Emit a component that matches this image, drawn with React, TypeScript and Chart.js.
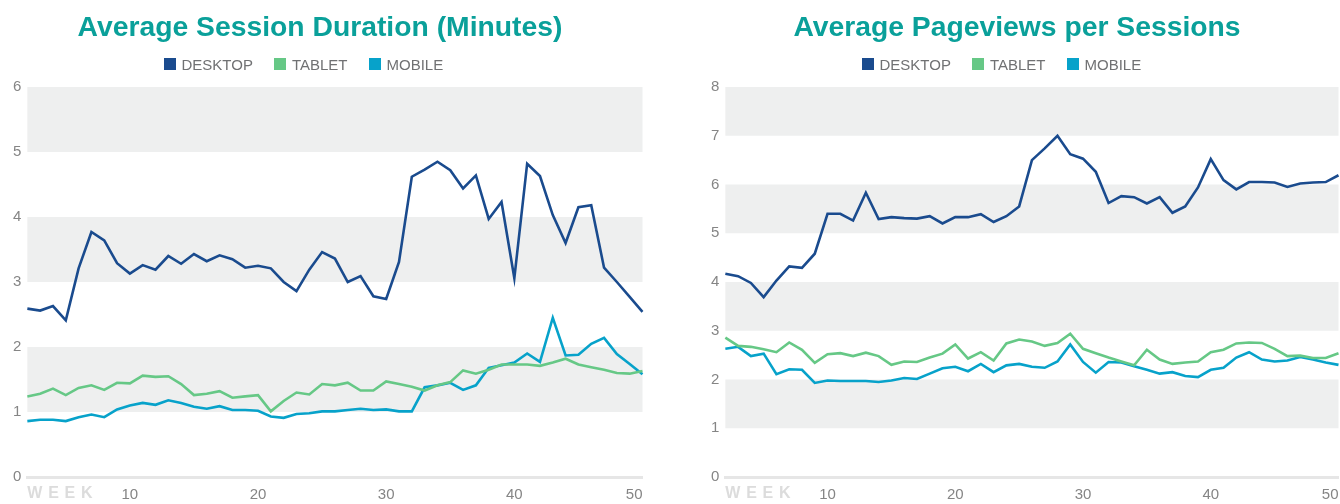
import React, { useEffect, useRef } from 'react';
import { Chart, registerables } from 'chart.js';

Chart.register(...registerables);

const FONT = "'Liberation Sans', Arial, Helvetica, sans-serif";

// Categories (weeks)
const weeks = [
  2, 3, 4, 5, 6, 7, 8, 9, 10, 11, 12, 13, 14, 15, 16, 17, 18, 19, 20, 21, 22, 23, 24, 25, 26,
  27, 28, 29, 30, 31, 32, 33, 34, 35, 36, 37, 38, 39, 40, 41, 42, 43, 44, 45, 46, 47, 48, 49, 50,
];
const xTickWeeks = [10, 20, 30, 40, 50];
const xAxisLabel = 'WEEK';

const seriesNames = ['DESKTOP', 'TABLET', 'MOBILE'];
const seriesColors = ['#1a4b8e', '#66c886', '#07a2ca'];

// Average Session Duration (Minutes)
const durationTicks = [0, 1, 2, 3, 4, 5, 6];
const durationDesktop = [
  2.59, 2.56, 2.63, 2.41, 3.21, 3.77, 3.64, 3.29, 3.13, 3.26, 3.19, 3.40, 3.28, 3.43, 3.32, 3.41,
  3.35, 3.22, 3.25, 3.21, 3.0, 2.86, 3.19, 3.46, 3.36, 3.0, 3.09, 2.78, 2.74, 3.31, 4.62, 4.73,
  4.85, 4.72, 4.44, 4.64, 3.97, 4.23, 3.06, 4.82, 4.63, 4.03, 3.60, 4.15, 4.18, 3.22, 3.0, 2.77, 2.54,
];
const durationTablet = [
  1.24, 1.28, 1.36, 1.26, 1.37, 1.41, 1.34, 1.45, 1.44, 1.56, 1.54, 1.55, 1.43, 1.26, 1.28, 1.32,
  1.22, 1.24, 1.26, 1.01, 1.17, 1.30, 1.27, 1.43, 1.41, 1.45, 1.33, 1.33, 1.47, 1.43, 1.39, 1.33,
  1.41, 1.46, 1.64, 1.59, 1.65, 1.73, 1.73, 1.73, 1.71, 1.76, 1.82, 1.73, 1.69, 1.65, 1.60, 1.59, 1.63,
];
const durationMobile = [
  0.86, 0.88, 0.88, 0.86, 0.92, 0.96, 0.92, 1.04, 1.10, 1.14, 1.11, 1.18, 1.14, 1.08, 1.05, 1.09,
  1.03, 1.03, 1.02, 0.93, 0.91, 0.97, 0.98, 1.01, 1.01, 1.03, 1.05, 1.03, 1.04, 1.01, 1.01, 1.38,
  1.41, 1.45, 1.34, 1.41, 1.68, 1.72, 1.76, 1.90, 1.77, 2.45, 1.87, 1.88, 2.05, 2.14, 1.89, 1.74, 1.58,
];

// Average Pageviews per Sessions
const pageviewTicks = [0, 1, 2, 3, 4, 5, 6, 7, 8];
const pageviewDesktop = [
  4.17, 4.12, 3.98, 3.69, 4.03, 4.32, 4.29, 4.58, 5.40, 5.40, 5.26, 5.83, 5.29, 5.33, 5.31, 5.30,
  5.35, 5.20, 5.33, 5.33, 5.39, 5.23, 5.35, 5.55, 6.50, 6.74, 7.0, 6.62, 6.53, 6.26, 5.62, 5.76,
  5.74, 5.61, 5.74, 5.42, 5.55, 5.94, 6.52, 6.09, 5.90, 6.05, 6.05, 6.04, 5.95, 6.02, 6.04, 6.05, 6.19,
];
const pageviewTablet = [
  2.86, 2.69, 2.67, 2.62, 2.56, 2.76, 2.61, 2.34, 2.52, 2.54, 2.48, 2.55, 2.48, 2.30, 2.37, 2.36,
  2.45, 2.53, 2.72, 2.43, 2.56, 2.39, 2.74, 2.82, 2.78, 2.69, 2.75, 2.94, 2.63, 2.54, 2.45, 2.37,
  2.29, 2.61, 2.41, 2.32, 2.35, 2.37, 2.56, 2.61, 2.74, 2.76, 2.75, 2.63, 2.48, 2.49, 2.44, 2.44, 2.54,
];
const pageviewMobile = [
  2.63, 2.67, 2.48, 2.53, 2.11, 2.21, 2.20, 1.93, 1.98, 1.97, 1.97, 1.97, 1.95, 1.98, 2.03, 2.01,
  2.12, 2.23, 2.26, 2.17, 2.32, 2.15, 2.29, 2.32, 2.26, 2.24, 2.37, 2.72, 2.36, 2.14, 2.36, 2.35,
  2.27, 2.20, 2.12, 2.15, 2.07, 2.05, 2.20, 2.24, 2.45, 2.56, 2.41, 2.37, 2.39, 2.46, 2.41, 2.35, 2.30,
];

const TICK_PAD = 8.5;

const bandPlugin = {
  id: 'bands',
  beforeDraw(chart: any) {
    const { ctx, chartArea, scales } = chart;
    const y = scales.y;
    ctx.save();
    ctx.fillStyle = '#eeefef';
    for (const t of y.ticks) {
      const v = t.value;
      if (v % 2 === 1 && v < y.max) {
        const top = y.getPixelForValue(v + 1);
        const bot = y.getPixelForValue(v);
        ctx.fillRect(chartArea.left, top, chartArea.right - chartArea.left, bot - top);
      }
    }
    ctx.restore();
  },
};

const weekLabelPlugin = {
  id: 'weekLabel',
  afterDraw(chart: any) {
    const { ctx, chartArea, scales } = chart;
    const x = scales.x;
    ctx.save();
    ctx.font = `bold 16px ${FONT}`;
    ctx.fillStyle = '#dcdcdc';
    ctx.textAlign = 'left';
    ctx.textBaseline = 'middle';
    try {
      (ctx as any).letterSpacing = '5.7px';
    } catch (e) {}
    ctx.fillText(xAxisLabel, chartArea.left, x.top + TICK_PAD + 8);
    ctx.restore();
  },
};

type PanelProps = {
  title: string;
  left: number;
  width: number;
  canvasWidth: number;
  yTicks: number[];
  series: number[][];
};

function Panel({ title, left, width, canvasWidth, yTicks, series }: PanelProps) {
  const ref = useRef<HTMLCanvasElement | null>(null);

  useEffect(() => {
    if (!ref.current) return;
    const chart = new Chart(ref.current, {
      type: 'line',
      data: {
        labels: weeks.map(String),
        datasets: series.map((d, i) => ({
          label: seriesNames[i],
          data: d,
          borderColor: seriesColors[i],
          backgroundColor: seriesColors[i],
          borderWidth: 2.6,
          pointRadius: 0,
          tension: 0,
          fill: false,
        })),
      },
      options: {
        responsive: false,
        animation: false,
        events: [],
        layout: { padding: { left: 7, right: 2, top: 87, bottom: 0 } },
        plugins: {
          legend: { display: false },
          title: { display: false },
          tooltip: { enabled: false },
        },
        scales: {
          x: {
            type: 'category',
            grid: { display: false, drawTicks: false },
            border: { display: true, color: '#e6e6e6', width: 3 },
            ticks: {
              autoSkip: false,
              maxRotation: 0,
              minRotation: 0,
              align: 'inner',
              padding: TICK_PAD,
              color: '#858585',
              font: { family: FONT, size: 15 },
              callback: (_v: any, idx: number) =>
                xTickWeeks.includes(weeks[idx]) ? String(weeks[idx]) : '',
            },
          },
          y: {
            min: yTicks[0],
            max: yTicks[yTicks.length - 1],
            grid: { display: false, drawTicks: false },
            border: { display: false },
            ticks: {
              stepSize: 1,
              padding: 6,
              color: '#858585',
              font: { family: FONT, size: 15 },
            },
          },
        },
      } as any,
      plugins: [bandPlugin, weekLabelPlugin],
    });
    return () => chart.destroy();
  }, []);

  return (
    <div style={{ position: 'absolute', left, top: 0, width, height: 504 }}>
      <canvas
        ref={ref}
        width={canvasWidth}
        height={512}
        style={{ position: 'absolute', left: 0, top: 0 }}
      />
      <div
        style={{
          position: 'absolute',
          left: -2,
          top: 12,
          width,
          textAlign: 'center',
          fontFamily: FONT,
          fontWeight: 700,
          fontSize: 28.3,
          lineHeight: '28px',
          color: '#0aa09a',
          whiteSpace: 'nowrap',
        }}
      >
        {title}
      </div>
      <div
        style={{
          position: 'absolute',
          left: 164,
          top: 56.5,
          display: 'flex',
          alignItems: 'center',
          fontFamily: FONT,
          fontSize: 15,
          lineHeight: '15px',
          color: '#707173',
          whiteSpace: 'nowrap',
        }}
      >
        {seriesNames.map((n, i) => (
          <div key={n} style={{ display: 'flex', alignItems: 'center', marginRight: 21.5 }}>
            <span
              style={{
                display: 'inline-block',
                width: 12,
                height: 12,
                background: seriesColors[i],
                marginRight: 5.5,
              }}
            />
            <span>{n}</span>
          </div>
        ))}
      </div>
    </div>
  );
}

export default function App() {
  return (
    <div
      style={{
        position: 'absolute',
        left: 0,
        top: 0,
        width: 1340,
        height: 504,
        overflow: 'hidden',
        background: '#fff',
      }}
    >
      <Panel
        title="Average Session Duration (Minutes)"
        left={0}
        width={644}
        canvasWidth={651}
        yTicks={durationTicks}
        series={[durationDesktop, durationTablet, durationMobile]}
      />
      <Panel
        title="Average Pageviews per Sessions"
        left={698}
        width={642}
        canvasWidth={649}
        yTicks={pageviewTicks}
        series={[pageviewDesktop, pageviewTablet, pageviewMobile]}
      />
    </div>
  );
}
